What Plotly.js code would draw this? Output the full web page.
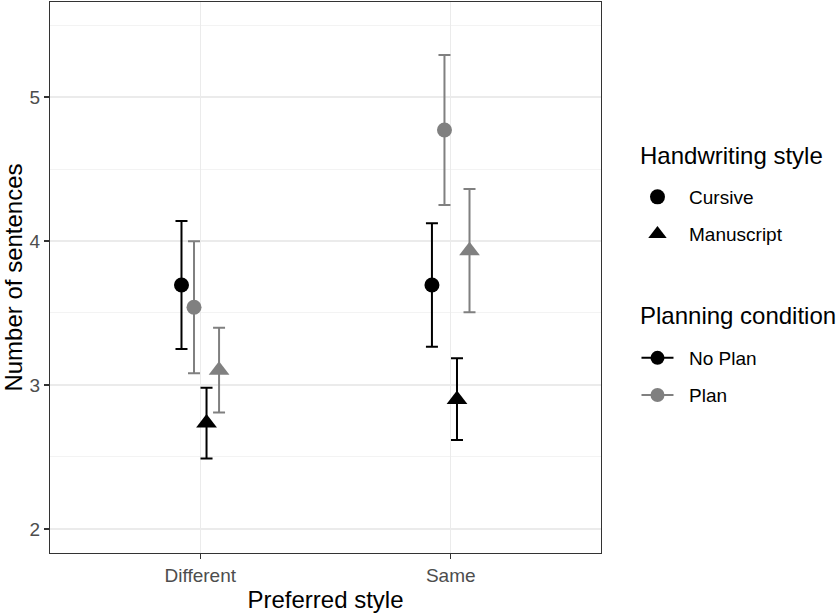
<!DOCTYPE html>
<html>
<head>
<meta charset="utf-8">
<script src="https://cdn.plot.ly/plotly-3.0.1.min.js"></script>
<style>html,body{margin:0;padding:0;background:#fff;}#chart{width:840px;height:615px;}</style>
</head>
<body>
<div id="chart"></div>
<script>
const categories = ["Different", "Same"];

const cursiveNoPlan = [3.694, 3.694];
const cursiveNoPlanLo = [3.25, 3.266];
const cursiveNoPlanHi = [4.139, 4.123];

const cursivePlan = [3.54, 4.771];
const cursivePlanLo = [3.081, 4.25];
const cursivePlanHi = [3.998, 5.292];

const manuscriptNoPlan = [2.736, 2.90];
const manuscriptNoPlanLo = [2.49, 2.618];
const manuscriptNoPlanHi = [2.981, 3.185];

const manuscriptPlan = [3.103, 3.933];
const manuscriptPlanLo = [2.808, 3.505];
const manuscriptPlanHi = [3.398, 4.361];

const legendTitles = ["Handwriting style", "Planning condition"];
const styleNames = ["Cursive", "Manuscript"];
const planNames = ["No Plan", "Plan"];

const BLACK = "#000000";
const GREY = "#808080";
const PAD = "\u00a0\u00a0";

function series(name, y, lo, hi, color, symbol, size, group) {
  return {
    type: "scatter", mode: "markers", name: name,
    x: categories, y: y, offsetgroup: group,
    marker: {color: color, symbol: symbol, size: size},
    error_y: {
      type: "data", symmetric: false,
      array: y.map((v, i) => hi[i] - v),
      arrayminus: y.map((v, i) => v - lo[i]),
      color: color, thickness: 2, width: 6
    },
    showlegend: false, hoverinfo: "skip"
  };
}

const traces = [
  series("Cursive / No Plan", cursiveNoPlan, cursiveNoPlanLo, cursiveNoPlanHi, BLACK, "circle", 15, "g1"),
  series("Cursive / Plan", cursivePlan, cursivePlanLo, cursivePlanHi, GREY, "circle", 15, "g2"),
  series("Manuscript / No Plan", manuscriptNoPlan, manuscriptNoPlanLo, manuscriptNoPlanHi, BLACK, "triangle-up", 18, "g3"),
  series("Manuscript / Plan", manuscriptPlan, manuscriptPlanLo, manuscriptPlanHi, GREY, "triangle-up", 18, "g4"),
  // legend entries
  {type: "scatter", mode: "markers", name: PAD + styleNames[0], x: [null], y: [null],
   marker: {color: BLACK, symbol: "circle", size: 15}, legend: "legend", legendgroup: "a1", showlegend: true},
  {type: "scatter", mode: "markers", name: PAD + styleNames[1], x: [null], y: [null],
   marker: {color: BLACK, symbol: "triangle-up", size: 17}, legend: "legend", legendgroup: "a2", showlegend: true},
  {type: "scatter", mode: "lines+markers", name: PAD + planNames[0], x: [null], y: [null],
   marker: {color: BLACK, symbol: "circle", size: 14}, line: {color: BLACK, width: 2}, legend: "legend2", legendgroup: "b1", showlegend: true},
  {type: "scatter", mode: "lines+markers", name: PAD + planNames[1], x: [null], y: [null],
   marker: {color: GREY, symbol: "circle", size: 14}, line: {color: GREY, width: 2}, legend: "legend2", legendgroup: "b2", showlegend: true}
];

const FONT = "Liberation Sans, Arial, sans-serif";

const layout = {
  width: 840, height: 615,
  margin: {l: 50, r: 239, t: 2, b: 62},
  paper_bgcolor: "#fff", plot_bgcolor: "#fff",
  font: {family: FONT, color: "#000"},
  scattermode: "group", scattergap: 0.8,
  xaxis: {
    type: "category", range: [-0.6, 1.6],
    showgrid: true, gridcolor: "#EBEBEB", gridwidth: 1.1,
    showline: true, linecolor: "#333333", linewidth: 1.1, mirror: true,
    ticks: "outside", ticklen: 5, tickcolor: "#333333", tickwidth: 1.1,
    tickfont: {size: 19, color: "#4D4D4D", family: FONT},
    title: {text: "Preferred style", font: {size: 24, color: "#000", family: FONT}, standoff: 6},
    zeroline: false, fixedrange: true
  },
  yaxis: {
    range: [1.833, 5.66], dtick: 1, tick0: 0,
    showgrid: true, gridcolor: "#EBEBEB", gridwidth: 1.1,
    minor: {dtick: 0.5, tick0: 0, showgrid: true, gridcolor: "#EBEBEB", gridwidth: 0.6, ticks: ""},
    showline: true, linecolor: "#333333", linewidth: 1.1, mirror: true,
    ticks: "outside", ticklen: 5, tickcolor: "#333333", tickwidth: 1.1,
    tickfont: {size: 19, color: "#4D4D4D", family: FONT},
    title: {text: "Number of sentences", font: {size: 24, color: "#000", family: FONT}, standoff: 8},
    zeroline: false, fixedrange: true
  },
  legend: {
    x: 1.0644, xanchor: "left", y: 0.6806, yanchor: "top",
    font: {size: 19, family: FONT}, tracegroupgap: 9.5, traceorder: "grouped",
    itemwidth: 32, bgcolor: "rgba(0,0,0,0)"
  },
  legend2: {
    x: 1.0644, xanchor: "left", y: 0.3884, yanchor: "top",
    font: {size: 19, family: FONT}, tracegroupgap: 9.5, traceorder: "grouped",
    itemwidth: 32, bgcolor: "rgba(0,0,0,0)"
  },
  annotations: [
    {text: legendTitles[0], xref: "paper", yref: "paper", x: 1.0672, y: 0.7223,
     xanchor: "left", yanchor: "middle", showarrow: false, font: {size: 24, color: "#000", family: FONT}},
    {text: legendTitles[1], xref: "paper", yref: "paper", x: 1.0672, y: 0.4319,
     xanchor: "left", yanchor: "middle", showarrow: false, font: {size: 24, color: "#000", family: FONT}}
  ]
};

Plotly.newPlot("chart", traces, layout, {displayModeBar: false, staticPlot: true});
</script>
</body>
</html>
